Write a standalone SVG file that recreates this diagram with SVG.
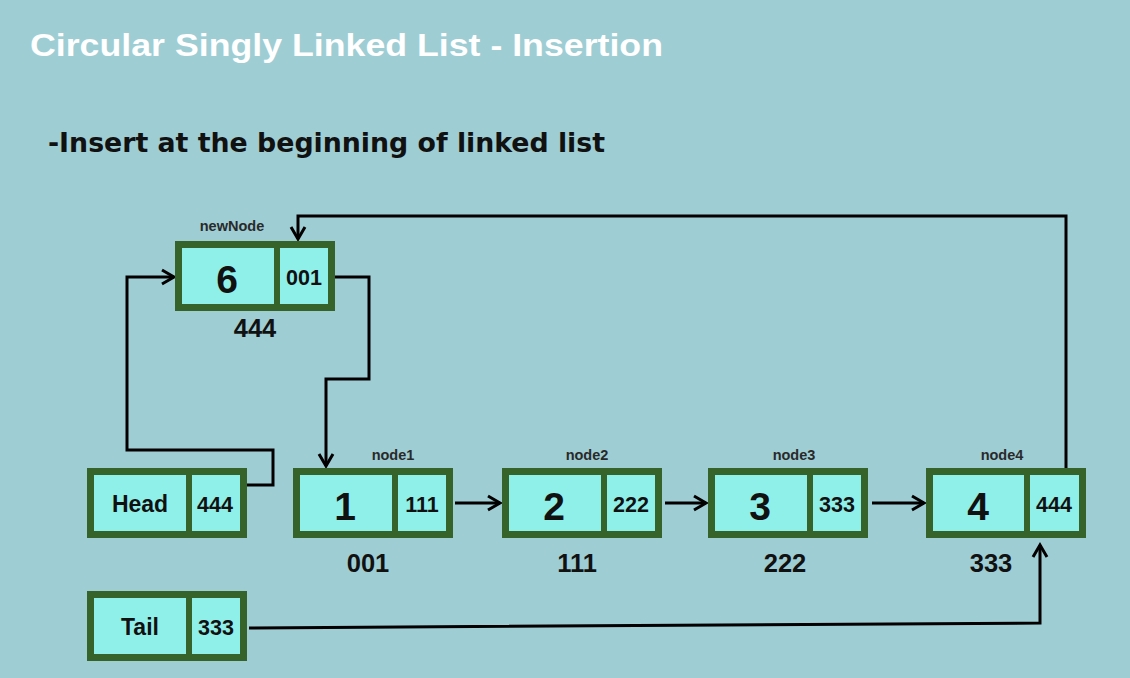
<svg xmlns="http://www.w3.org/2000/svg" width="1130" height="678" viewBox="0 0 1130 678">
<style>
.box{fill:#8ff0ea;stroke:#36632a;stroke-width:7}
.div{stroke:#36632a;stroke-width:6}
.val{font-family:"Liberation Sans",Arial,sans-serif;font-weight:bold;font-size:39px;fill:#111;text-anchor:middle}
.ptr{font-family:"Liberation Sans",Arial,sans-serif;font-weight:bold;font-size:21.5px;fill:#111;text-anchor:middle}
.nm{font-family:"Liberation Sans",Arial,sans-serif;font-weight:bold;font-size:23px;fill:#111;text-anchor:middle}
.addr{font-family:"Liberation Sans",Arial,sans-serif;font-weight:bold;font-size:25.5px;fill:#111;text-anchor:middle}
.lbl{font-family:"Liberation Sans",Arial,sans-serif;font-weight:bold;font-size:14.5px;fill:#2a2a2a;text-anchor:middle}
.con{fill:none;stroke:#000;stroke-width:3;stroke-linejoin:miter}
</style>
<defs>
<marker id="arr" markerUnits="userSpaceOnUse" markerWidth="18" markerHeight="18" refX="14" refY="9" orient="auto">
<path d="M2,2 L14,9 L2,16" fill="none" stroke="#000" stroke-width="3"/>
</marker>
</defs>
<rect width="1130" height="678" fill="#9ecdd4"/>
<text x="30" y="56" font-family="'Liberation Sans',Arial,sans-serif" font-weight="bold" font-size="32" fill="#fff" textLength="633" lengthAdjust="spacingAndGlyphs">Circular Singly Linked List - Insertion</text>
<text x="48" y="152" font-family="'DejaVu Sans Condensed','DejaVu Sans',sans-serif" font-stretch="condensed" font-weight="bold" font-size="26" fill="#111" textLength="557" lengthAdjust="spacingAndGlyphs">-Insert at the beginning of linked list</text>

<g id="connectors">
<polyline class="con" points="247,485 273,485 273,450 127,450 127,277 174,277" marker-end="url(#arr)"/>
<polyline class="con" points="335,277 369,277 369,379 326,379 326,466" marker-end="url(#arr)"/>
<polyline class="con" points="1066,468 1066,216 298,216 298,239" marker-end="url(#arr)"/>
<line class="con" x1="455" y1="503" x2="500" y2="503" marker-end="url(#arr)"/>
<line class="con" x1="665" y1="503" x2="706" y2="503" marker-end="url(#arr)"/>
<line class="con" x1="872" y1="503" x2="924" y2="503" marker-end="url(#arr)"/>
<polyline class="con" points="249,628 1040,623 1040,545" marker-end="url(#arr)"/>
</g>

<g id="newNode">
<text class="lbl" x="232" y="231">newNode</text>
<rect class="box" x="178.5" y="244.5" width="153" height="63"/>
<line class="div" x1="277" y1="244" x2="277" y2="308"/>
<text class="val" x="227" y="293">6</text>
<text class="ptr" x="304" y="285">001</text>
<text class="addr" x="255" y="337">444</text>
</g>

<g id="head">
<rect class="box" x="90.5" y="471.5" width="153" height="63"/>
<line class="div" x1="189" y1="471" x2="189" y2="535"/>
<text class="nm" x="140" y="512">Head</text>
<text class="ptr" x="215" y="512">444</text>
</g>

<g id="tail">
<rect class="box" x="90.5" y="594.5" width="153" height="63"/>
<line class="div" x1="189" y1="594" x2="189" y2="658"/>
<text class="nm" x="140" y="635">Tail</text>
<text class="ptr" x="216" y="635">333</text>
</g>

<g id="node1">
<text class="lbl" x="393" y="460">node1</text>
<rect class="box" x="296.5" y="471.5" width="153" height="63"/>
<line class="div" x1="395" y1="471" x2="395" y2="535"/>
<text class="val" x="345" y="520">1</text>
<text class="ptr" x="422" y="512">111</text>
<text class="addr" x="368" y="572">001</text>
</g>

<g id="node2">
<text class="lbl" x="587" y="460">node2</text>
<rect class="box" x="505.5" y="471.5" width="153" height="63"/>
<line class="div" x1="604" y1="471" x2="604" y2="535"/>
<text class="val" x="554" y="520">2</text>
<text class="ptr" x="631" y="512">222</text>
<text class="addr" x="577" y="572">111</text>
</g>

<g id="node3">
<text class="lbl" x="794" y="460">node3</text>
<rect class="box" x="711.5" y="471.5" width="153" height="63"/>
<line class="div" x1="810" y1="471" x2="810" y2="535"/>
<text class="val" x="760" y="520">3</text>
<text class="ptr" x="837" y="512">333</text>
<text class="addr" x="785" y="572">222</text>
</g>

<g id="node4">
<text class="lbl" x="1002" y="460">node4</text>
<rect class="box" x="929.5" y="471.5" width="153" height="63"/>
<line class="div" x1="1027" y1="471" x2="1027" y2="535"/>
<text class="val" x="978" y="520">4</text>
<text class="ptr" x="1054" y="512">444</text>
<text class="addr" x="991" y="572">333</text>
</g>
</svg>
